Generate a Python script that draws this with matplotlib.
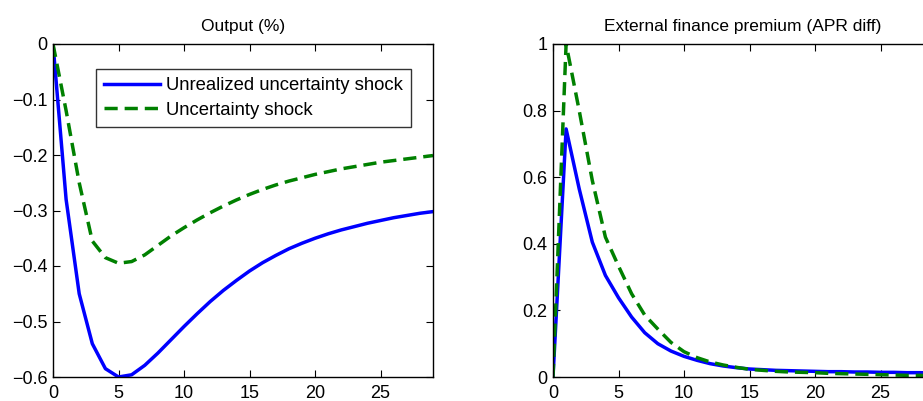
import matplotlib
matplotlib.use("Agg")
import matplotlib.pyplot as plt
from matplotlib.ticker import FuncFormatter
import numpy as np

plt.rcParams['font.family'] = ['Liberation Sans', 'DejaVu Sans']
plt.rcParams['axes.unicode_minus'] = True

# periods 0..29
t = np.arange(30)

# Output (%)
output_unreal = [0.0, -0.28, -0.45, -0.54, -0.585, -0.600, -0.596, -0.579, -0.557, -0.533,
                 -0.509, -0.486, -0.464, -0.444, -0.426, -0.409, -0.394, -0.381, -0.369, -0.359,
                 -0.350, -0.342, -0.335, -0.329, -0.323, -0.318, -0.313, -0.309, -0.305, -0.302]
output_unc = [0.0, -0.12, -0.25, -0.355, -0.385, -0.395, -0.392, -0.380, -0.363, -0.346,
              -0.331, -0.317, -0.304, -0.292, -0.281, -0.271, -0.262, -0.254, -0.247, -0.241,
              -0.235, -0.230, -0.225, -0.221, -0.217, -0.213, -0.210, -0.207, -0.204, -0.201]

# External finance premium (APR diff)
efp_unreal = [0.0, 0.745, 0.565, 0.405, 0.305, 0.238, 0.180, 0.133, 0.100, 0.078,
              0.062, 0.050, 0.040, 0.033, 0.028, 0.024, 0.022, 0.020, 0.019, 0.018,
              0.017, 0.016, 0.016, 0.015, 0.015, 0.014, 0.014, 0.013, 0.013, 0.012]
efp_unc = [0.0, 1.0, 0.80, 0.59, 0.42, 0.333, 0.25, 0.186, 0.144, 0.104,
           0.076, 0.058, 0.045, 0.036, 0.029, 0.023, 0.020, 0.017, 0.015, 0.014,
           0.013, 0.011, 0.010, 0.009, 0.008, 0.007, 0.006, 0.005, 0.005, 0.004]

titles = ["Output (%)", "External finance premium (APR diff)"]
legend_labels = ["Unrealized uncertainty shock", "Uncertainty shock"]
xticks = [0, 5, 10, 15, 20, 25]
yticks_left = [-0.6, -0.5, -0.4, -0.3, -0.2, -0.1, 0]
yticks_right = [0, 0.2, 0.4, 0.6, 0.8, 1]

W, H = 923, 401
fig = plt.figure(figsize=(W / 100, H / 100), dpi=100)
ax1 = fig.add_axes([53 / W, (H - 377) / H, 380 / W, 333 / H])
ax2 = fig.add_axes([553 / W, (H - 377) / H, 380 / W, 333 / H])

fmt = FuncFormatter(lambda v, p: ("%g" % round(v, 3)).replace("-", "\u2212"))
blue = "#0000ff"
green = "#008000"

def style(ax, title, yticks, ylim):
    ax.set_xlim(0, 29)
    ax.set_ylim(*ylim)
    ax.set_xticks(xticks)
    ax.set_yticks(yticks)
    ax.xaxis.set_major_formatter(fmt)
    ax.yaxis.set_major_formatter(fmt)
    ax.tick_params(direction='in', top=True, right=True, length=5, width=0.8,
                   labelsize=13, pad=4)
    ax.tick_params(axis='x', pad=6)
    for s in ax.spines.values():
        s.set_linewidth(1.0)
    ax.set_title(title, fontsize=12.5, pad=9)

ax1.plot(t, output_unreal, color=blue, lw=2.5, label=legend_labels[0])
ax1.plot(t, output_unc, color=green, lw=2.5, dashes=(3.8, 2.0), label=legend_labels[1])
style(ax1, titles[0], yticks_left, (-0.6, 0))
leg = ax1.legend(loc='upper left', bbox_to_anchor=(0.113, 0.925), fontsize=13.3,
                 frameon=True, fancybox=False, borderpad=0.45, labelspacing=0.4,
                 handlelength=3.0, handletextpad=0.35, borderaxespad=0)
leg.get_frame().set_edgecolor('black')
leg.get_frame().set_linewidth(1.0)

ax2.plot(t, efp_unreal, color=blue, lw=2.5)
ax2.plot(t, efp_unc, color=green, lw=2.5, dashes=(3.8, 2.0))
style(ax2, titles[1], yticks_right, (0, 1))

fig.savefig("out.png", dpi=100)
